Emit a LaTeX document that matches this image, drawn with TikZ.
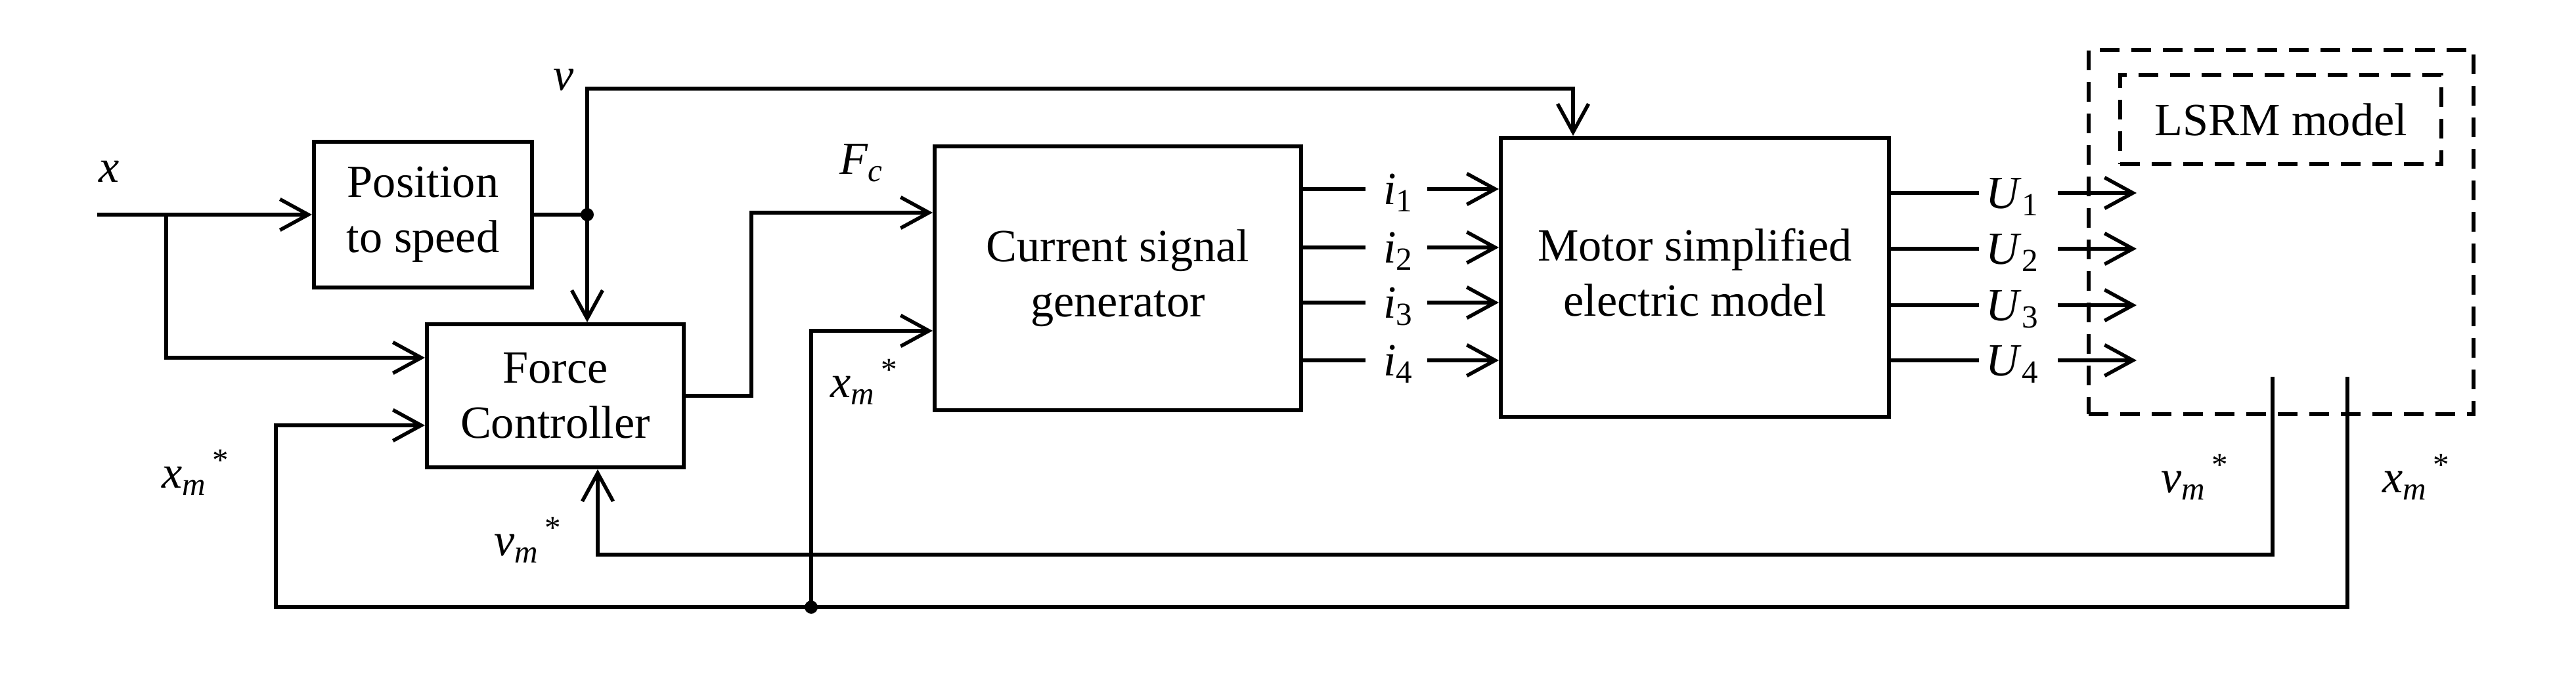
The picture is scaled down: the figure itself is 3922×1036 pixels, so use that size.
\documentclass[tikz,border=0pt]{standalone}
\usepackage{fontspec}
\setmainfont{Liberation Serif}
\usetikzlibrary{arrows.meta,calc}
\newcommand{\xmstar}{\textit{x}\textsubscript{\textit{m}}\textsuperscript{\,*}}
\newcommand{\vmstar}{\textit{v}\textsubscript{\textit{m}}\textsuperscript{\,*}}
\begin{document}
\begin{tikzpicture}[x=0.1mm,y=-0.1mm,line width=0.6mm,
  >={Straight Barb[length=4.3mm,width=4.7mm,line width=0.55mm]},
  box/.style={draw,line width=0.6mm,align=center,inner sep=0pt,font=\fontsize{20}{24}\selectfont},
  dbox/.style={draw,line width=0.6mm,dash pattern=on 3mm off 1.8mm,inner sep=0pt,font=\fontsize{20}{24}\selectfont},
  lab/.style={inner sep=0pt,font=\fontsize{20}{24}\selectfont},
  dot/.style={circle,fill,inner sep=0pt,minimum size=2mm}]
\useasboundingbox (0,0) rectangle (3922,1036);
% blocks
\node[box,minimum width=33.2mm,minimum height=22.2mm] (pts) at (644,327) {Position\\to speed};
\node[box,minimum width=39.1mm,minimum height=21.8mm] (fc) at (845.5,603) {Force\\Controller};
\node[box,minimum width=55.8mm,minimum height=40.2mm] (csg) at (1702,424) {Current signal\\generator};
\node[box,minimum width=59.1mm,minimum height=42.5mm] (msem) at (2580.5,422.5) {\raisebox{1.2mm}{\begin{tabular}{@{}c@{}}Motor simplified\\electric model\end{tabular}}};
\node[dbox,minimum width=58.6mm,minimum height=55.5mm] (lsrm) at (3473,353.5) {};
\node[dbox,minimum width=48.9mm,minimum height=13.6mm] (lsrmin) at (3472.5,182) {LSRM model};
% coordinates
\coordinate (xin) at (148,327);
\coordinate (br) at (253,327);
\node[dot] (dv) at (894,327) {};
\coordinate (vright) at (2395,135);
\coordinate (fcup) at (1144,324);
\coordinate (vs) at (3460,574);
\coordinate (vb) at (3460,845);
\coordinate (vmx) at ($(fc.south)+(64.5,0)$);
\coordinate (xs) at (3574,574);
\coordinate (xb) at (3574,925);
\coordinate (xl) at (420,925);
\node[dot] (dx) at (1235,925) {};
% connectors
\draw[->] (xin) -- (pts.west);
\draw[->] (br) |- ($(fc.west)+(0,-58)$);
\draw (pts.east) -- (dv.center);
\draw[->] (dv.center) |- (vright) -- (vright |- msem.north);
\draw[->] (dv.center) -- (dv |- fc.north);
\draw[->] (fc.east) -| (fcup) -- ($(csg.west)+(0,-100)$);
\draw[->] (vs) |- (vmx |- vb) -- (vmx);
\draw[->] (xs) -- (xb) -- (xl) |- ($(fc.west)+(0,45)$);
\draw[->] (dx.center) |- ($(csg.west)+(0,80)$);
\foreach \y/\k in {288/1,377/2,461/3,549/4}{
  \coordinate (iy\k) at (0,\y);
  \draw (csg.east |- iy\k) -- (2079,\y);
  \node[lab] (il\k) at (2129,\y+6) {\textit{i}\textsubscript{\k}};
  \draw[->] (2173,\y) -- (msem.west |- iy\k);
}
\foreach \y/\k in {294/1,379/2,465/3,549/4}{
  \coordinate (uy\k) at (0,\y);
  \coordinate (ue\k) at (3253,\y);
  \draw (msem.east |- uy\k) -- (3013,\y);
  \node[lab] (ul\k) at (3064,\y+6) {\textit{U}\textsubscript{\k}};
  \draw[->] (3133,\y) -- (ue\k);
}
% labels
\node[lab] (lx) at (166,261) {\textit{x}};
\node[lab] (lv) at (858,122) {\textit{v}};
\node[lab] (lfc) at (1312,248) {\textit{F}\textsubscript{\textit{c}}};
\node[lab] (lxm1) at (1316,582) {\xmstar};
\node[lab] (lxm2) at (298,720) {\xmstar};
\node[lab] (lvm1) at (804,823) {\vmstar};
\node[lab] (lvm2) at (3342,727) {\vmstar};
\node[lab] (lxm3) at (3679,727) {\xmstar};
\end{tikzpicture}
\end{document}
